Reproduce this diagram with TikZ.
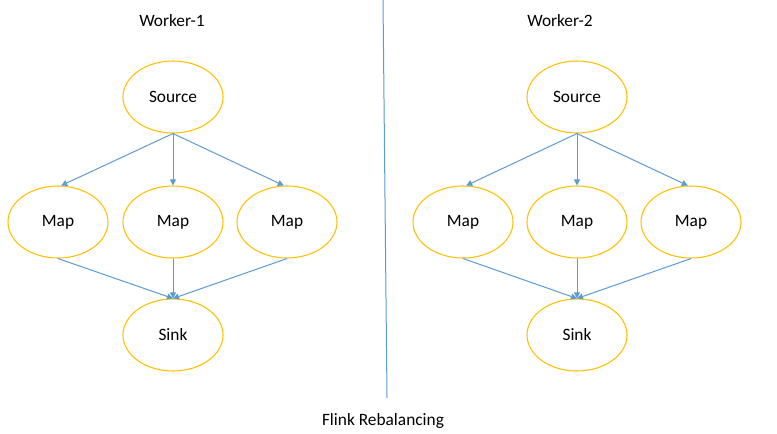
\documentclass[tikz,border=0pt]{standalone}
\usepackage{fontspec}
\setmainfont{Carlito}
\usetikzlibrary{shapes.geometric,arrows.meta}
\definecolor{linkblue}{HTML}{5B9BD5}
\definecolor{opgold}{HTML}{FFC000}
\begin{document}
\begin{tikzpicture}[x=0.75pt,y=-0.75pt,
  font=\fontsize{13}{15.6}\selectfont,
  opnode/.style={ellipse,draw=opgold,line width=0.8pt,minimum width=75pt,minimum height=54pt,inner sep=0pt},
  flow/.style={draw=linkblue,line width=0.75pt,-{Triangle[length=4.5pt,width=4.5pt]}},
  lbl/.style={inner sep=0pt,anchor=center}]
\useasboundingbox (0,0) rectangle (777,433);
% Worker 1
\node[lbl] (w1) at (172,21) {Worker-1};
\node[opnode] (s1) at (173,97) {Source};
\node[opnode] (a1) at (58,222) {Map};
\node[opnode] (b1) at (173,222) {Map};
\node[opnode] (c1) at (287,222) {Map};
\node[opnode] (k1) at (173,335) {Sink};
\draw[flow] (s1.south) -- (a1.85);
\draw[flow] (s1.south) -- (b1.north);
\draw[flow] (s1.south) -- (c1.95);
\draw[flow] (a1.south) -- (k1.north);
\draw[flow] (b1.south) -- (k1.north);
\draw[flow] (c1.south) -- (k1.north);
% Worker 2
\node[lbl] (w2) at (560,21) {Worker-2};
\node[opnode] (s2) at (577,97) {Source};
\node[opnode] (a2) at (463,222) {Map};
\node[opnode] (b2) at (577,222) {Map};
\node[opnode] (c2) at (691,222) {Map};
\node[opnode] (k2) at (577,335) {Sink};
\draw[flow] (s2.south) -- (a2.85);
\draw[flow] (s2.south) -- (b2.north);
\draw[flow] (s2.south) -- (c2.95);
\draw[flow] (a2.south) -- (k2.north);
\draw[flow] (b2.south) -- (k2.north);
\draw[flow] (c2.south) -- (k2.north);
% divider
\coordinate (dt) at (383,0);
\coordinate (db) at (387,398);
\draw[linkblue,line width=0.75pt] (dt) -- (db);
\node[lbl] (cap) at (383,421) {Flink Rebalancing};
\end{tikzpicture}
\end{document}
